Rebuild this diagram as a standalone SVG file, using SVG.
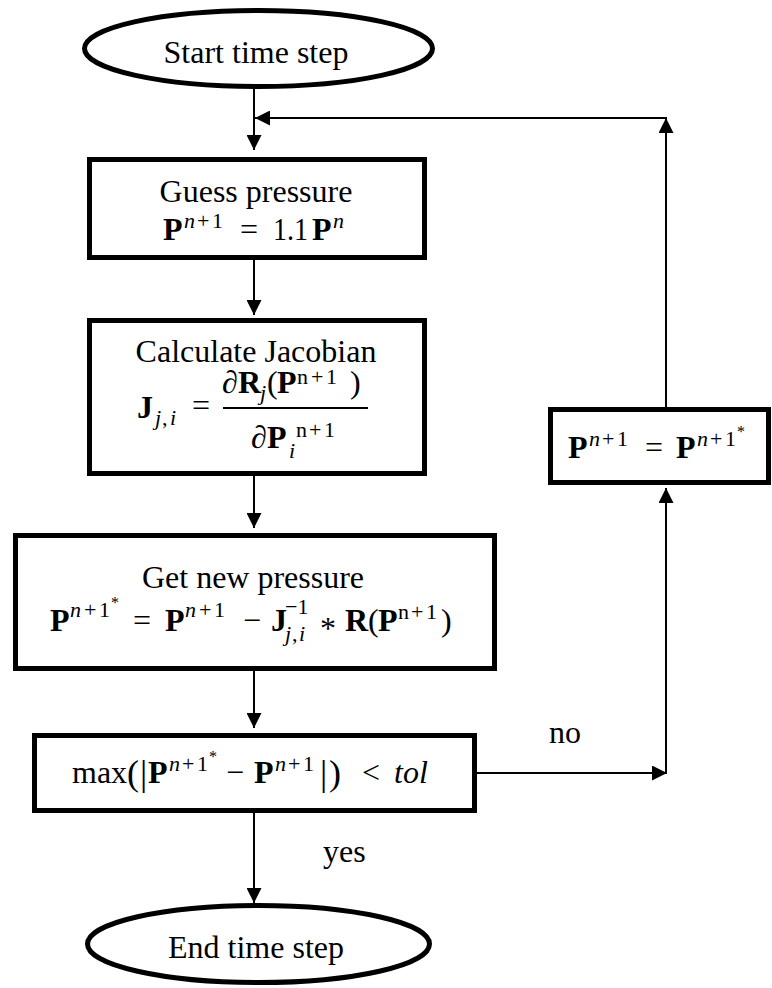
<svg xmlns="http://www.w3.org/2000/svg" width="772" height="988" viewBox="0 0 772 988">
<style>
.t { font-family: "Liberation Serif", "Times New Roman", serif; font-size: 32px; fill: #000; }
.b { font-weight: bold; }
.i { font-style: italic; }
.s { font-size: 22px; }
.st { font-size: 16px; }
.lg { font-size: 36px; }
.box { fill: #fff; stroke: #000; stroke-width: 5; }
.conn { fill: none; stroke: #000; stroke-width: 2; }
.bar { stroke: #000; stroke-width: 2; }
</style>
<defs>
<marker id="ah" markerUnits="userSpaceOnUse" viewBox="0 0 15 15" markerWidth="15" markerHeight="15" refX="15" refY="7.5" orient="auto">
<path d="M0,0 L15,7.5 L0,15 z" fill="#000"/>
</marker>
</defs>
<rect width="772" height="988" fill="#fff"/>
<g id="connectors">
<path class="conn" d="M254,89 V150" marker-end="url(#ah)"/>
<path class="conn" d="M254,260 V315" marker-end="url(#ah)"/>
<path class="conn" d="M254,476 V528" marker-end="url(#ah)"/>
<path class="conn" d="M254,671 V728" marker-end="url(#ah)"/>
<path class="conn" d="M254,813 V903" marker-end="url(#ah)"/>
<path class="conn" d="M477,773 H667" marker-end="url(#ah)"/>
<path class="conn" d="M666,773 V488" marker-end="url(#ah)"/>
<path class="conn" d="M666,407 V118" marker-end="url(#ah)"/>
<path class="conn" d="M667,118 H255" marker-end="url(#ah)"/>
<text class="t" x="549" y="743">no</text>
<text class="t" x="323" y="862">yes</text>
</g>
<g id="start">
<ellipse class="box" cx="258.5" cy="48.5" rx="174" ry="38"/>
<text class="t" x="256" y="63" text-anchor="middle">Start time step</text>
</g>
<g id="guess">
<rect class="box" x="89.5" y="159.5" width="335" height="98"/>
<text class="t" x="256" y="202" text-anchor="middle">Guess pressure</text>
<text class="t b" x="163" y="240">P</text>
<text class="t s i" x="184" y="228">n</text>
<text class="t s" x="197" y="228">+</text>
<text class="t s" x="212" y="228">1</text>
<text class="t" x="240" y="240">=</text>
<text class="t" x="273" y="240" textLength="35" lengthAdjust="spacingAndGlyphs">1.1</text>
<text class="t b" x="312" y="240">P</text>
<text class="t s i" x="333" y="228">n</text>
</g>
<g id="jacobian">
<rect class="box" x="89.5" y="320.5" width="335" height="153"/>
<text class="t" x="256" y="362" text-anchor="middle">Calculate Jacobian</text>
<text class="t b" x="137" y="418">J</text>
<text class="t s i" x="155" y="425">j</text>
<text class="t s" x="162" y="425">,</text>
<text class="t s i" x="170" y="425">i</text>
<text class="t" x="192" y="416">=</text>
<line class="bar" x1="223" y1="408" x2="368" y2="408"/>
<text class="t" x="222" y="393">∂</text>
<text class="t b" x="238" y="393">R</text>
<text class="t s i" x="260" y="400">j</text>
<text class="t" x="267" y="393">(</text>
<text class="t b" x="277" y="393">P</text>
<text class="t s" x="297" y="384">n</text>
<text class="t s" x="311" y="384">+</text>
<text class="t s" x="326" y="384">1</text>
<text class="t" x="350" y="393">)</text>
<text class="t" x="251" y="448">∂</text>
<text class="t b" x="267" y="448">P</text>
<text class="t s i" x="289" y="458">i</text>
<text class="t s" x="296" y="437">n</text>
<text class="t s" x="309" y="437">+</text>
<text class="t s" x="324" y="437">1</text>
</g>
<g id="newpressure">
<rect class="box" x="15.5" y="535.5" width="479" height="133"/>
<text class="t" x="253" y="588" text-anchor="middle">Get new pressure</text>
<text class="t b" x="50" y="631">P</text>
<text class="t s i" x="70" y="617">n</text>
<text class="t s" x="84" y="617">+</text>
<text class="t s" x="99" y="617">1</text>
<text class="t st" x="111" y="608">*</text>
<text class="t" x="133" y="631">=</text>
<text class="t b" x="165" y="631">P</text>
<text class="t s i" x="185" y="617">n</text>
<text class="t s" x="199" y="617">+</text>
<text class="t s" x="214" y="617">1</text>
<text class="t" x="243" y="631">−</text>
<text class="t b" x="271" y="631">J</text>
<text class="t s" x="285" y="614">−1</text>
<text class="t s i" x="285" y="641">j</text>
<text class="t s" x="292" y="641">,</text>
<text class="t s i" x="299" y="641">i</text>
<text class="t" x="320" y="639">*</text>
<text class="t b" x="345" y="631">R</text>
<text class="t" x="368" y="631">(</text>
<text class="t b" x="378" y="631">P</text>
<text class="t s" x="398" y="619">n</text>
<text class="t s" x="411" y="619">+</text>
<text class="t s" x="426" y="619">1</text>
<text class="t" x="441" y="631">)</text>
</g>
<g id="check">
<rect class="box" x="34.5" y="735.5" width="440" height="75"/>
<text class="t" x="72" y="783">max</text>
<text class="t lg" x="127" y="785">(</text>
<text class="t lg" x="140" y="785">|</text>
<text class="t b" x="148" y="783">P</text>
<text class="t s i" x="169" y="771">n</text>
<text class="t s" x="182" y="771">+</text>
<text class="t s" x="197" y="771">1</text>
<text class="t st" x="209" y="762">*</text>
<text class="t" x="226" y="783">−</text>
<text class="t b" x="254" y="783">P</text>
<text class="t s i" x="275" y="771">n</text>
<text class="t s" x="288" y="771">+</text>
<text class="t s" x="303" y="771">1</text>
<text class="t lg" x="320" y="785">|</text>
<text class="t lg" x="329" y="785">)</text>
<text class="t" x="362" y="783">&lt;</text>
<text class="t i" x="394" y="783">tol</text>
</g>
<g id="update">
<rect class="box" x="550.5" y="409.5" width="218" height="73"/>
<text class="t b" x="568" y="458">P</text>
<text class="t s i" x="589" y="446">n</text>
<text class="t s" x="602" y="446">+</text>
<text class="t s" x="617" y="446">1</text>
<text class="t" x="645" y="458">=</text>
<text class="t b" x="676" y="458">P</text>
<text class="t s i" x="697" y="446">n</text>
<text class="t s" x="710" y="446">+</text>
<text class="t s" x="725" y="446">1</text>
<text class="t st" x="737" y="437">*</text>
</g>
<g id="end">
<ellipse class="box" cx="258.5" cy="944" rx="171" ry="38.5"/>
<text class="t" x="256" y="958" text-anchor="middle">End time step</text>
</g>
</svg>
